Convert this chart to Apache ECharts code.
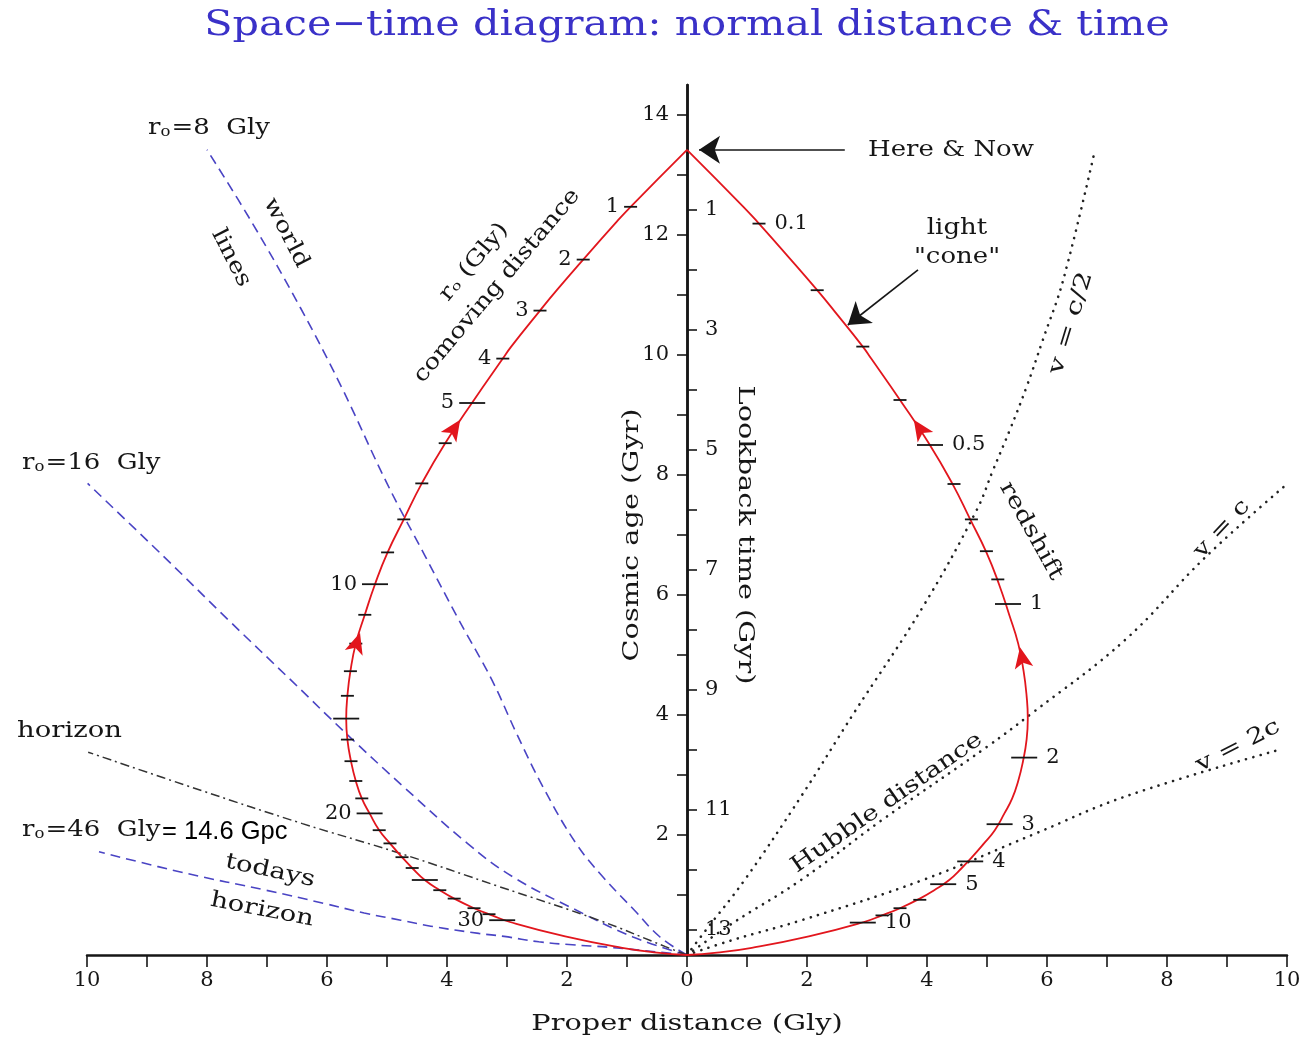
<!DOCTYPE html>
<html>
<head>
<meta charset="utf-8">
<title>Space-time diagram</title>
<script src="https://cdn.jsdelivr.net/npm/echarts@6/dist/echarts.min.js"></script>
<style>
  html, body { margin: 0; padding: 0; background: #fff; }
  #chart { width: 1315px; height: 1040px; }
</style>
</head>
<body>
<div id="chart"></div>
<script>
// ---------------------------------------------------------------
// Cosmology space-time diagram: proper distance (Gly) vs cosmic age (Gyr)
// ---------------------------------------------------------------

const nowAge = 13.42;                 // age of the universe at "Here & Now"

// Past light cone (one branch; the other side is its mirror image)
const coneAge  = [13.42, 12.47, 12.19, 11.59, 11.08, 10.74, 10.14, 9.94, 9.25, 8.53, 7.86, 7.26, 6.71, 6.18, 5.67, 5.19, 4.73, 4.32, 3.94, 3.59, 3.23, 2.9, 2.61, 2.36, 2.08, 1.86, 1.63, 1.45, 1.25, 1.08, 0.94, 0.78, 0.66, 0.55, 0.31, 0.12, 0.04, 0];
const coneDist = [0, 0.94, 1.2, 1.73, 2.17, 2.45, 2.93, 3.07, 3.55, 4.03, 4.42, 4.72, 4.99, 5.2, 5.37, 5.52, 5.61, 5.66, 5.68, 5.66, 5.6, 5.52, 5.42, 5.29, 5.13, 4.95, 4.75, 4.58, 4.37, 4.12, 3.88, 3.55, 3.25, 2.95, 2.03, 1.08, 0.5, 0];

// Comoving-distance marks (Gly) along the left branch
const comovingValue = [1, 2, 3, 4, 5, 6, 7, 8, 9, 10, 11, 12, 13, 14, 15, 16, 17, 18, 19, 20, 21, 22, 23, 24, 25, 26, 27, 28, 29, 30];
const comovingX     = [-0.94, -1.73, -2.45, -3.07, -3.58, -4.03, -4.42, -4.72, -4.99, -5.2, -5.37, -5.52, -5.61, -5.66, -5.68, -5.66, -5.6, -5.52, -5.42, -5.29, -5.13, -4.95, -4.75, -4.58, -4.37, -4.12, -3.88, -3.55, -3.3, -3.08];
const comovingAge   = [12.47, 11.59, 10.74, 9.94, 9.2, 8.53, 7.86, 7.26, 6.71, 6.18, 5.67, 5.19, 4.73, 4.32, 3.94, 3.59, 3.23, 2.9, 2.61, 2.36, 2.08, 1.86, 1.63, 1.45, 1.25, 1.08, 0.94, 0.78, 0.68, 0.58];
const comovingLabeled = [1, 2, 3, 4, 5, 10, 20, 30];

// Redshift marks along the right branch
const redshiftValue = [0.1, 0.2, 0.3, 0.4, 0.5, 0.6, 0.7, 0.8, 0.9, 1, 2, 3, 4, 5, 6, 7, 8, 10];
const redshiftX     = [1.2, 2.17, 2.93, 3.55, 4.05, 4.45, 4.74, 4.99, 5.18, 5.35, 5.62, 5.21, 4.72, 4.27, 3.88, 3.55, 3.25, 2.93];
const redshiftAge   = [12.19, 11.08, 10.14, 9.25, 8.5, 7.85, 7.26, 6.73, 6.26, 5.85, 3.29, 2.18, 1.56, 1.18, 0.92, 0.78, 0.66, 0.54];
const redshiftLabeled = [0.1, 0.5, 1, 2, 3, 4, 5, 10];

// Direction arrows on the light cone
const coneArrowX   = [-3.78, -5.45, 3.78, 5.55];
const coneArrowAge = [8.92, 5.37, 8.92, 5.13];

// Worldlines of galaxies at fixed comoving distance
const world8X    = [0, -0.45, -0.88, -1.4, -1.85, -2.4, -2.84, -3.25, -3.8, -4.36, -5.0, -5.76, -6.45, -7.24, -8.0];
const world8Age  = [0, 0.3, 0.75, 1.3, 1.86, 2.8, 3.69, 4.58, 5.58, 6.64, 7.86, 9.47, 10.8, 12.19, 13.42];
const world16X   = [0, -0.9, -1.85, -2.9, -3.66, -4.72, -5.68, -6.6, -7.64, -8.72, -9.99];
const world16Age = [0, 0.3, 0.75, 1.3, 1.86, 2.8, 3.69, 4.58, 5.58, 6.64, 7.86];
const world46X   = [0, -1.31, -1.91, -2.47, -3.05, -3.47, -4.27, -4.77, -5.38, -6.05, -7.02, -8.34, -9.8];
const world46Age = [0, 0.13, 0.17, 0.22, 0.31, 0.36, 0.48, 0.58, 0.7, 0.86, 1.08, 1.36, 1.72];

// Particle horizon
const horizonX   = [0, -0.36, -1.47, -3.13, -4.8, -6.41, -8.12, -9.98];
const horizonAge = [0, 0.14, 0.58, 1.14, 1.7, 2.19, 2.75, 3.38];

// Recession-velocity contours
const vHalfX   = [0, 0.28, 0.96, 1.9, 2.78, 3.93, 4.83, 5.1, 5.38, 5.66, 5.93, 6.27, 6.8];
const vHalfAge = [0, 0.37, 1.25, 2.64, 4.03, 5.8, 7.42, 8.08, 8.75, 9.47, 10.25, 11.25, 13.42];
const vcX      = [0, 0.76, 1.9, 3.25, 5.0, 5.75, 7.3, 8.65, 10.0];
const vcAge    = [0, 0.53, 1.25, 2.25, 3.47, 4.03, 5.25, 6.64, 7.85];
const v2cX     = [0, 0.76, 1.91, 3.93, 5.82, 7.3, 9.87];
const v2cAge   = [0, 0.25, 0.58, 1.25, 2.03, 2.64, 3.42];

// Pointer arrows (from, to) in data coordinates
const hereNowPointer = [[2.63, 13.42], [0.2, 13.42]];
const conePointer    = [[3.85, 11.42], [2.68, 10.5]];

// Axis ticks
const distanceTicks  = [-10, -9, -8, -7, -6, -5, -4, -3, -2, -1, 0, 1, 2, 3, 4, 5, 6, 7, 8, 9, 10];
const ageTicks       = [1, 2, 3, 4, 5, 6, 7, 8, 9, 10, 11, 12, 13, 14];
const ageLabels      = [2, 4, 6, 8, 10, 12, 14];
const lookbackTicks  = [1, 2, 3, 4, 5, 6, 7, 8, 9, 10, 11, 12, 13];
const lookbackLabels = [1, 3, 5, 7, 9, 11, 13];

// ---------------------------------------------------------------
const SERIF = '"DejaVu Serif", "Liberation Serif", serif';
const INK = '#161616';
const RED = '#e2161d';
const BLUE = '#4a44c4';

const GRID = { left: 87, right: 28, top: 85, bottom: 85 };
const PLOT_W = 1315 - GRID.left - GRID.right;     // 20 Gly across
const HALF_W = PLOT_W / 2;                         // from an edge to distance 0

const pts = (xs, ys) => xs.map((x, i) => [x, ys[i]]);

function curve(data, lineStyle, smooth) {
  return {
    type: 'line', data, symbol: 'none', showSymbol: false, silent: true,
    smooth: smooth, lineStyle, z: 3
  };
}

const dashedBlue = { color: BLUE, width: 1.6, type: [10, 6] };
const dashDot    = { color: '#333', width: 1.5, type: [9, 4, 2, 4] };
const dotted     = { color: '#222', width: 2.6, type: [0.1, 7.5], cap: 'round' };

function tickSeries(xs, ages, values, labeled, isLong, side) {
  const labelStyle = {
    position: side, distance: side === 'left' ? 5 : 9,
    formatter: p => String(values[p.dataIndex]),
    fontFamily: SERIF, fontSize: 21, color: INK, opacity: 1
  };
  return {
    type: 'scatter', symbol: 'rect', silent: true, z: 6,
    data: values.map((v, i) => ({
      value: [xs[i], ages[i]],
      symbolSize: isLong(v) ? [26, 1.8] : [13, 1.8],
      label: Object.assign({ show: labeled.includes(v) }, labelStyle)
    })),
    itemStyle: { color: INK, opacity: 1 },
    label: Object.assign({ show: false }, labelStyle)
  };
}

// Arrowhead rotation follows the light cone heading toward "now"
function coneHeading(x, age) {
  const side = x < 0 ? -1 : 1;
  for (let i = 0; i < coneAge.length - 1; i++) {
    if (coneAge[i] >= age && age >= coneAge[i + 1]) {
      const dx = side * (coneDist[i] - coneDist[i + 1]);
      const dy = coneAge[i] - coneAge[i + 1];
      return -Math.atan2(dx, dy) * 180 / Math.PI;
    }
  }
  return 0;
}

const series = [
  // worldlines, horizon and velocity contours
  curve(pts(world8X, world8Age), dashedBlue, 0.4),
  curve(pts(world16X, world16Age), dashedBlue, 0.4),
  curve(pts(world46X, world46Age), dashedBlue, 0.4),
  curve(pts(horizonX, horizonAge), dashDot, 0.4),
  curve(pts(vHalfX, vHalfAge), dotted, 0.4),
  curve(pts(vcX, vcAge), dotted, 0.4),
  curve(pts(v2cX, v2cAge), dotted, 0.4),
  // light cone, both branches
  Object.assign(curve(pts(coneDist, coneAge), { color: RED, width: 1.8 }, 0.5), { z: 4 }),
  Object.assign(curve(pts(coneDist.map(d => -d), coneAge), { color: RED, width: 1.8 }, 0.5), { z: 4 }),
  // comoving distance and redshift marks
  tickSeries(comovingX, comovingAge, comovingValue, comovingLabeled, v => v % 5 === 0, 'left'),
  tickSeries(redshiftX, redshiftAge, redshiftValue, redshiftLabeled, v => v >= 0.5 && redshiftLabeled.includes(v), 'right'),
  // arrowheads on the cone
  {
    type: 'scatter', symbol: 'arrow', symbolSize: [14, 21], silent: true, z: 7,
    itemStyle: { color: RED, opacity: 1 },
    data: coneArrowX.map((x, i) => ({
      value: [x, coneArrowAge[i]],
      symbolRotate: coneHeading(x, coneArrowAge[i])
    }))
  },
  // pointer arrows for annotations
  {
    type: 'lines', coordinateSystem: 'cartesian2d', silent: true, z: 7,
    symbol: ['none', 'arrow'], symbolSize: 21,
    lineStyle: { color: INK, width: 1.6, opacity: 1, curveness: 0 },
    data: [{ coords: hereNowPointer }, { coords: conePointer }]
  }
];

// Text annotations; the typeface of the figure is wide, so glyphs are stretched horizontally
const STRETCH = 1.18;
const deg = d => d * Math.PI / 180;

const txt = (text, x, y, opts) => {
  opts = opts || {};
  return {
    type: 'text', x, y, silent: true, z: 10,
    rotation: opts.rot || 0,
    scaleX: opts.sx || STRETCH,
    style: Object.assign({
      text, font: (opts.size || 22) + 'px ' + SERIF, fill: INK,
      textAlign: 'center', textVerticalAlign: 'middle'
    }, opts.style || {})
  };
};

const subRich = {
  m: { font: '22px ' + SERIF, fill: INK },
  s: { font: '14px ' + SERIF, fill: INK, verticalAlign: 'bottom', padding: [0, 1, 0, 0] }
};
const rLabel = (value, x, y) => ({
  type: 'text', x, y, silent: true, z: 10, scaleX: STRETCH,
  style: {
    text: '{m|r}{s|o}{m|=' + value + '  Gly}', rich: subRich,
    textAlign: 'left', textVerticalAlign: 'middle'
  }
});

const graphics = [
  txt('Space\u2212time diagram: normal distance & time', 687, 26,
      { size: 36, sx: 1.15, style: { fill: '#3a31c8' } }),
  txt('Here & Now', 868, 150, { style: { textAlign: 'left' } }),
  txt('light', 957, 228),
  txt('"cone"', 957, 257),
  rLabel('8', 148, 128),
  rLabel('16', 22, 463),
  rLabel('46', 22, 830),
  txt('= 14.6 Gpc', 162, 832, { size: 25, sx: 1.02, style: { textAlign: 'left', font: '25px "Liberation Sans", Arial, sans-serif', fill: '#000' } }),
  txt('world', 286, 233, { rot: deg(-63) }),
  txt('lines', 231, 258, { rot: deg(-63) }),
  txt('r\u2092 (Gly)', 474, 262, { rot: deg(50) }),
  txt('comoving distance', 497, 286, { rot: deg(50) }),
  txt('horizon', 17, 731, { sx: 1.25, style: { textAlign: 'left' } }),
  txt('todays', 270, 871, { rot: deg(-12), sx: 1.25 }),
  txt('horizon', 262, 910, { rot: deg(-11), sx: 1.25 }),
  txt('redshift', 1031, 531, { rot: deg(-61), sx: 1.25 }),
  txt('v = c/2', 1071, 323, { rot: deg(73), sx: 1.35 }),
  txt('v = c', 1222, 529, { rot: deg(47), sx: 1.25 }),
  txt('v = 2c', 1238, 746, { rot: deg(27), sx: 1.28 }),
  txt('Hubble distance', 887, 803, { rot: deg(35), sx: 1.25 }),
  txt('Cosmic age (Gyr)', 632, 535, { rot: deg(90), size: 23, sx: 1.25 }),
  txt('Lookback time (Gyr)', 745, 535, { rot: deg(-90), size: 23, sx: 1.25 }),
  txt('Proper distance (Gly)', 687, 1024, { size: 23, sx: 1.25 })
];

const axisFont = { fontFamily: SERIF, fontSize: 21, color: INK };

const option = {
  animation: false,
  backgroundColor: '#fff',
  grid: Object.assign({ outerBoundsMode: 'none', containLabel: false }, GRID),
  xAxis: {
    type: 'value', min: -10, max: 10, interval: 2,
    axisLine: { onZero: false, lineStyle: { color: INK, width: 2.5 } },
    axisTick: { length: 12, customValues: distanceTicks, lineStyle: { color: INK, width: 1.6 } },
    axisLabel: Object.assign({ margin: 15, formatter: v => String(Math.abs(v)) }, axisFont),
    splitLine: { show: false }
  },
  yAxis: [
    {
      // cosmic age, read on the left of the central axis
      type: 'value', min: 0, max: 14.5, position: 'left', offset: -HALF_W,
      axisLine: { show: true, onZero: false, lineStyle: { color: INK, width: 2.5 } },
      axisTick: { length: 10, customValues: ageTicks, lineStyle: { color: INK, width: 1.6 } },
      axisLabel: Object.assign({ margin: 18, customValues: ageLabels }, axisFont),
      splitLine: { show: false }
    },
    {
      // lookback time, read on the right of the central axis
      type: 'value', inverse: true, min: nowAge - 14.5, max: nowAge, position: 'right', offset: -HALF_W,
      axisLine: { show: true, onZero: false, lineStyle: { color: INK, width: 2.5 } },
      axisTick: { length: 10, customValues: lookbackTicks, lineStyle: { color: INK, width: 1.6 } },
      axisLabel: Object.assign({ margin: 18, customValues: lookbackLabels }, axisFont),
      splitLine: { show: false }
    }
  ],
  series,
  graphic: graphics
};

const chart = echarts.init(document.getElementById('chart'));
chart.setOption(option);
</script>
</body>
</html>
